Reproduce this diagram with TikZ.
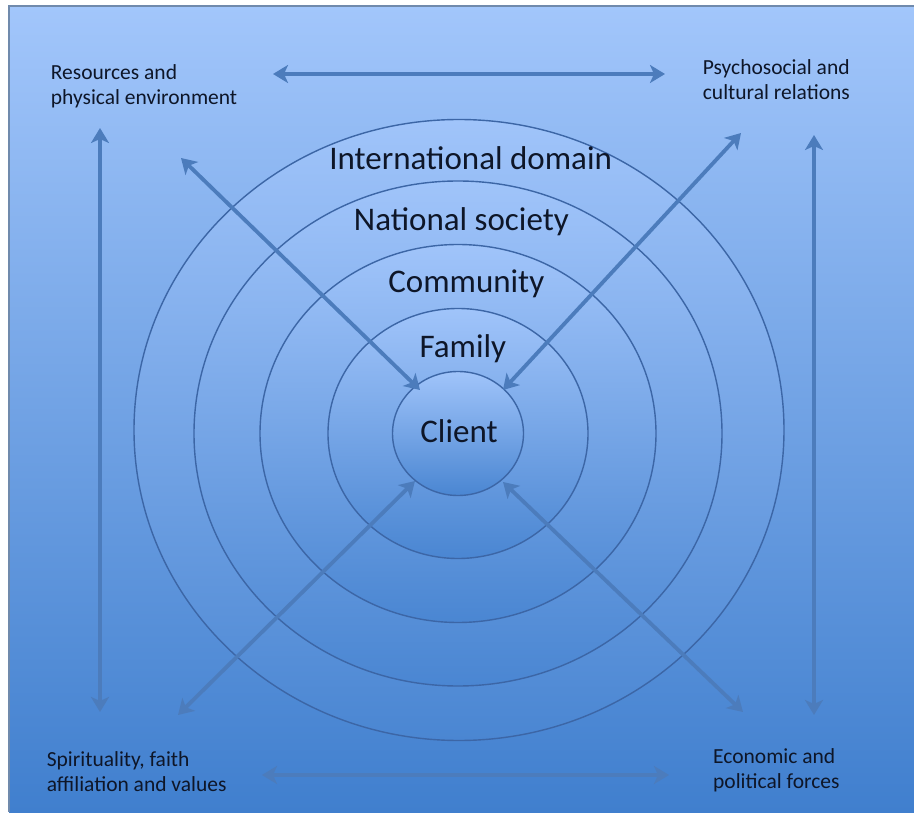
\documentclass[tikz,border=0pt]{standalone}
\usepackage{fontspec}
\setmainfont{Carlito}
\usetikzlibrary{arrows.meta,shapes.geometric}

\definecolor{panelTop}{RGB}{162,198,251}
\definecolor{panelBottom}{RGB}{64,127,206}
\definecolor{ringTop}{RGB}{160,196,250}
\definecolor{ringBottom}{RGB}{74,134,210}
\definecolor{ringEdge}{RGB}{60,102,166}
\definecolor{linkBlue}{RGB}{76,124,188}
\definecolor{inkNavy}{RGB}{14,22,40}
\definecolor{panelEdge}{RGB}{112,138,172}

\tikzset{
  ring/.style={ellipse, draw=ringEdge, line width=1.4pt, inner sep=0pt,
    top color=ringTop, bottom color=ringBottom},
  link/.style={draw=linkBlue, line width=3.8pt,
    {Stealth[length=15pt,width=18pt,inset=4pt]}-{Stealth[length=15pt,width=18pt,inset=4pt]}},
  zone/.style={font=\fontsize{33}{40}\selectfont, text=inkNavy, inner sep=0pt, anchor=base},
  corner/.style={font=\fontsize{21.5}{25}\selectfont, text=inkNavy, inner sep=0pt,
    align=left, anchor=north west},
}

\begin{document}
\begin{tikzpicture}[x=1pt,y=-1pt]
\useasboundingbox (0,0) rectangle (914,818);
\fill[white] (0,0) rectangle (914,818);

% gradient panel with its frame
\shade[top color=panelTop, bottom color=panelBottom] (9,6) rectangle (914,812);
\draw[panelEdge, line width=1.2pt] (914,6) -- (9,6) -- (9,812);

% concentric domains, outermost first
\coordinate (hub) at (458,433.5);
\node[ring, minimum width=650pt, minimum height=621pt] (intl) at (459,430) {};
\node[ring, minimum width=528pt, minimum height=505pt] (natl) at (hub) {};
\node[ring, minimum width=396pt, minimum height=378pt] (comm) at (hub) {};
\node[ring, minimum width=260pt, minimum height=250pt] (fam) at (hub) {};
\node[ring, minimum width=131pt, minimum height=124pt] (client) at (hub) {};

% arrow end points
\coordinate (topL) at (273,74);
\coordinate (topR) at (665,74);
\coordinate (botL) at (262,775);
\coordinate (botR) at (669,775);
\coordinate (leftT) at (100,128);
\coordinate (leftB) at (100,712);
\coordinate (rightT) at (814,135);
\coordinate (rightB) at (814,715);
\coordinate (nwOut) at (181,158);
\coordinate (nwIn) at (420,390);
\coordinate (neOut) at (741,133);
\coordinate (neIn) at (503,390);
\coordinate (swOut) at (178,715);
\coordinate (swIn) at (415,481);
\coordinate (seOut) at (743,712);
\coordinate (seIn) at (503,482);

% two-way influences
\draw[link] (topL) -- (topR);
\draw[link] (botL) -- (botR);
\draw[link] (leftT) -- (leftB);
\draw[link] (rightT) -- (rightB);
\draw[link] (nwOut) -- (nwIn);
\draw[link] (neOut) -- (neIn);
\draw[link] (swOut) -- (swIn);
\draw[link] (seOut) -- (seIn);

% domain names
\node[zone] (intlText) at (470.7,169.5) {International domain};
\node[zone] (natlText) at (461.4,231) {National society};
\node[zone] (commText) at (466.3,293) {Community};
\node[zone] (famText) at (462.8,357.5) {Family};
\node[zone] (clientText) at (459,442.5) {Client};

% corner factors
\node[corner] (resources) at (50.7,64) {Resources and\\physical environment};
\node[corner] (psycho) at (702.7,59.5) {Psychosocial and\\cultural relations};
\node[corner] (spirit) at (46.6,751) {Spirituality, faith\\affiliation and values};
\node[corner] (economy) at (713,748) {Economic and\\political forces};
\end{tikzpicture}
\end{document}
